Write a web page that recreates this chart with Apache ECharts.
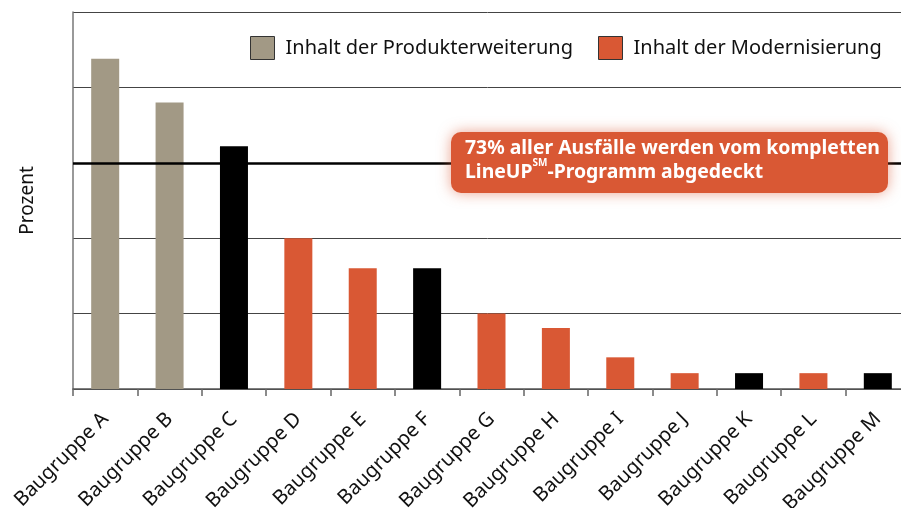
<!DOCTYPE html>
<html>
<head>
<meta charset="utf-8">
<script src="https://cdn.jsdelivr.net/npm/echarts@6/dist/echarts.min.js"></script>
<style>html,body{margin:0;padding:0;background:#fff}#c{width:901px;height:508px}</style>
</head>
<body>
<div id="c"></div>
<script>
const categories = ['Baugruppe A','Baugruppe B','Baugruppe C','Baugruppe D','Baugruppe E','Baugruppe F','Baugruppe G','Baugruppe H','Baugruppe I','Baugruppe J','Baugruppe K','Baugruppe L','Baugruppe M'];
const values = [21.9, 19.0, 16.1, 10.0, 8.0, 8.0, 5.0, 4.05, 2.1, 1.05, 1.05, 1.05, 1.05];
const groups = ['ext','ext','other','mod','mod','other','mod','mod','mod','mod','other','mod','other'];
const seriesNames = { ext: 'Inhalt der Produkterweiterung', mod: 'Inhalt der Modernisierung', other: 'Sonstige' };
const yTicks = [0, 5, 10, 15, 20, 25];

const FONT = 'Noto Sans';
const colors = { ext: '#A29985', mod: '#D95834', other: '#000000' };

function seriesFor(g) {
  return {
    name: seriesNames[g],
    type: 'bar',
    stack: 'all',
    barWidth: 28,
    itemStyle: { color: colors[g] },
    data: values.map((v, i) => groups[i] === g ? v : '-'),
    animation: false
  };
}
const s = ['ext', 'mod', 'other'].map(seriesFor);
s[2].markLine = {
  silent: true, symbol: 'none', label: { show: false },
  lineStyle: { color: '#000', width: 2.5, type: 'solid' },
  data: [{ yAxis: yTicks[3] }]
};

function legendAt(left, name) {
  return {
    left: left, top: 36, padding: 0, itemWidth: 24, itemHeight: 23, icon: 'rect',
    data: [name],
    itemStyle: { borderColor: '#333', borderWidth: 1 },
    textStyle: { fontFamily: FONT, fontSize: 20, color: '#111', padding: [0, 0, 0, 6] },
    selectedMode: false
  };
}

const chart = echarts.init(document.getElementById('c'), null, { renderer: 'canvas' });
chart.setOption({
  animation: false,
  grid: { left: 73, top: 12, right: -9, bottom: 119, containLabel: false, outerBoundsMode: 'none' },
  legend: [legendAt(250, seriesNames.ext), legendAt(598, seriesNames.mod)],
  xAxis: {
    type: 'category',
    data: categories,
    axisLine: { lineStyle: { color: '#555', width: 1.5 } },
    axisTick: { show: true, length: 7, lineStyle: { color: '#666', width: 1.5 } },
    axisLabel: { rotate: 45, margin: 27, fontFamily: FONT, fontSize: 20, color: '#111', interval: 0 }
  },
  yAxis: {
    type: 'value',
    min: yTicks[0], max: yTicks[yTicks.length - 1], interval: 5,
    name: 'Prozent', nameLocation: 'middle', nameGap: 36,
    nameTextStyle: { fontFamily: FONT, fontSize: 19, color: '#111' },
    axisLine: { show: true, lineStyle: { color: '#777', width: 1.5 } },
    axisTick: { show: false },
    axisLabel: { show: false },
    splitLine: { lineStyle: { color: '#444', width: 1 } }
  },
  series: s,
  graphic: [
    {
      type: 'rect', left: 451, top: 132, z: 100,
      shape: { width: 437, height: 61, r: 10 },
      style: { fill: '#D95834', shadowBlur: 14, shadowColor: 'rgba(217,88,52,0.55)' }
    },
    {
      type: 'text', left: 465, top: 139, z: 101,
      style: {
        text: '{a|73% aller Ausfälle werden vom kompletten}\n{a|LineUP}{s|SM}{a|-Programm abgedeckt}',
        rich: {
          a: { fontFamily: FONT, fontWeight: 'bold', fontSize: 19.4, fill: '#fff', lineHeight: 24, verticalAlign: 'bottom' },
          s: { fontFamily: FONT, fontWeight: 'bold', fontSize: 10, fill: '#fff', lineHeight: 24, verticalAlign: 'top', padding: [0, 0, 8, 0] }
        }
      }
    }
  ]
});
</script>
</body>
</html>
